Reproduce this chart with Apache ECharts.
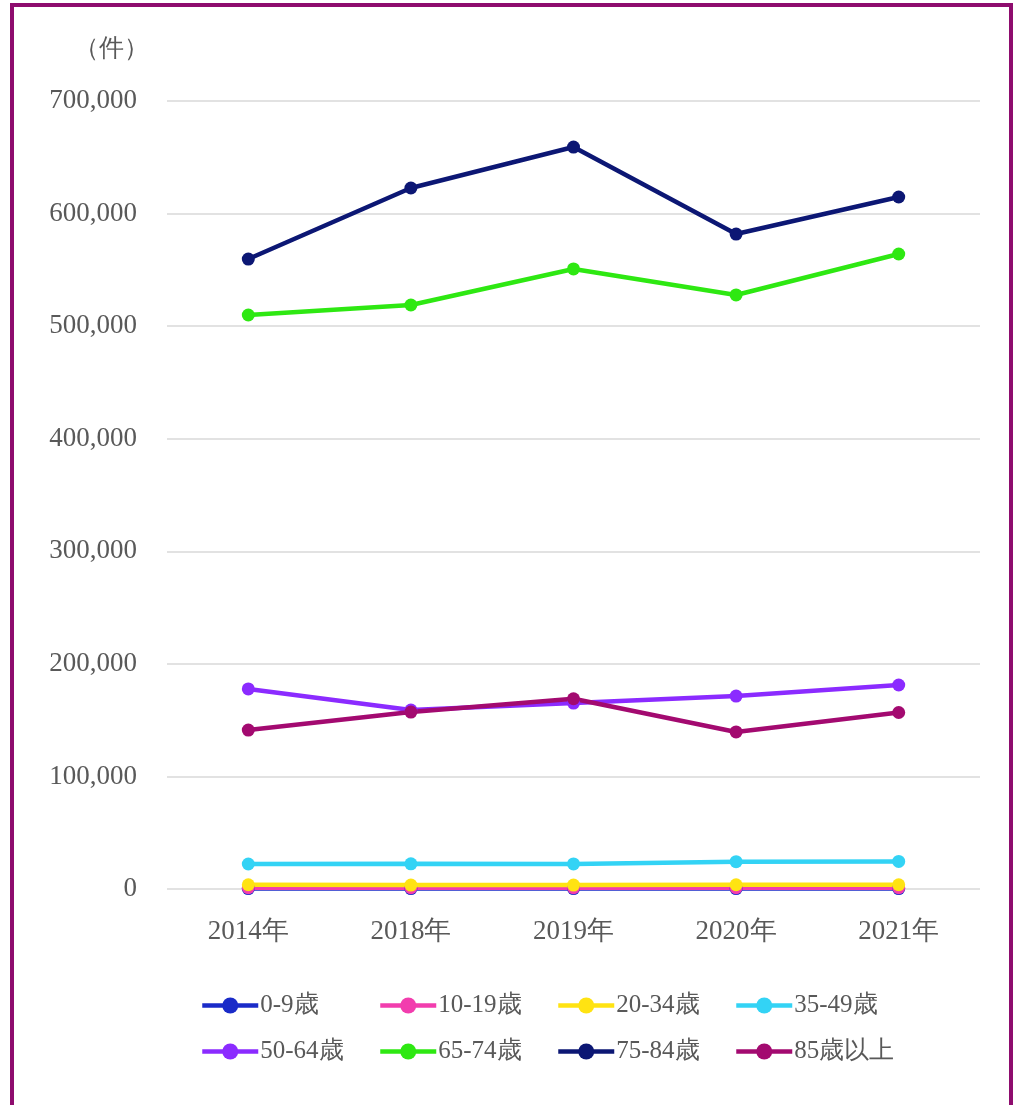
<!DOCTYPE html>
<html><head><meta charset="utf-8">
<script src="https://cdn.jsdelivr.net/npm/echarts@6/dist/echarts.min.js"></script>
<style>html,body{margin:0;padding:0;background:#fff}#c{width:1017px;height:1105px}</style>
</head><body><div id="c"></div>
<script>
const categories = ['2014年','2018年','2019年','2020年','2021年'];
const seriesNames = ['0-9歳','10-19歳','20-34歳','35-49歳','50-64歳','65-74歳','75-84歳','85歳以上'];
const v0_9   = [400, 400, 400, 400, 400];
const v10_19 = [1200, 1100, 1100, 1100, 1200];
const v20_34 = [3800, 3500, 3500, 3800, 3800];
const v35_49 = [22200, 22400, 22300, 24300, 24500];
const v50_64 = [177700, 159000, 165200, 171400, 181200];
const v65_74 = [509900, 518800, 550800, 527700, 564100];
const v75_84 = [559600, 622700, 659100, 581800, 614700];
const v85    = [141200, 157200, 169000, 139500, 156800];
const yTicks = [0, 100000, 200000, 300000, 400000, 500000, 600000, 700000];
const colors = ['#1A2BC8','#F23DAE','#FFE312','#33D3F5','#8B2BFF','#2EE812','#0C1774','#A30A70'];
const values = [v0_9, v10_19, v20_34, v35_49, v50_64, v65_74, v75_84, v85];

const font = '"Liberation Serif", "Times New Roman", serif';
const txt = '#595959';
const fs = 27;
const chart = echarts.init(document.getElementById('c'));
const legends = seriesNames.map((n, i) => ({
  left: 200 + 178 * (i % 4), top: i < 4 ? 993 : 1039, padding: 0,
  itemWidth: 56, itemHeight: 20, itemGap: 0,
  lineStyle: {width: 4.5},
  data: [n],
  textStyle: {fontFamily: font, fontSize: 25, color: txt, padding: [0, 0, 0, -3]}
}));
chart.setOption({
  animation: false,
  grid: {left: 167, right: 37, top: 101, bottom: 216},
  graphic: [
    {type: 'rect', shape: {x: 12, y: 5, width: 999, height: 1200}, style: {fill: 'none', stroke: '#8E0C6E', lineWidth: 4}},
    {type: 'text', left: 74, top: 37, style: {text: '（件）', font: '25px ' + font, fill: txt}}
  ],
  legend: legends,
  xAxis: {
    type: 'category', data: categories, boundaryGap: true,
    axisLine: {show: false}, axisTick: {show: false},
    axisLabel: {fontFamily: font, fontSize: fs, color: txt, margin: 29}
  },
  yAxis: {
    type: 'value', min: 0, max: 700000, interval: 100000,
    axisLine: {show: false}, axisTick: {show: false},
    splitLine: {lineStyle: {color: '#d9d9d9', width: 1.5}},
    axisLabel: {fontFamily: font, fontSize: fs, color: txt, margin: 30, padding: [4, 0, 0, 0],
      formatter: v => yTicks.includes(v) ? v.toLocaleString('en-US') : ''}
  },
  series: seriesNames.map((n, i) => ({
    name: n, type: 'line', data: values[i], color: colors[i],
    symbol: 'circle', symbolSize: 13,
    lineStyle: {width: 4.5, color: colors[i]},
    itemStyle: {color: colors[i]}
  }))
});
</script></body></html>
